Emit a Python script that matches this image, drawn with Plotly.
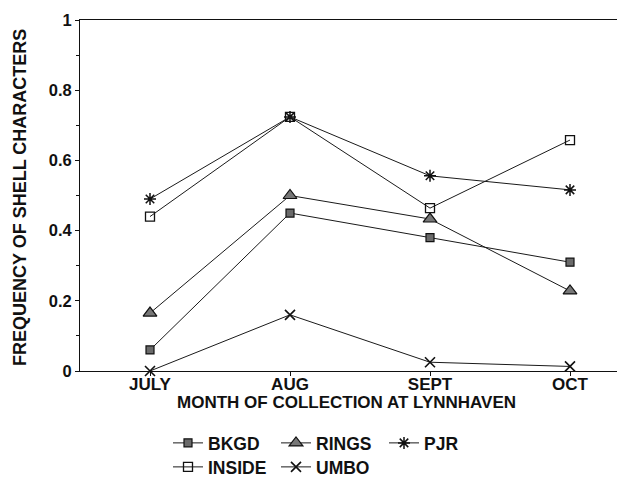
import plotly.graph_objects as go

months = ["JULY", "AUG", "SEPT", "OCT"]
bkgd = [0.06, 0.45, 0.38, 0.31]
rings = [0.165, 0.50, 0.433, 0.228]
pjr = [0.49, 0.724, 0.556, 0.516]
inside = [0.44, 0.724, 0.464, 0.658]
umbo = [0.0, 0.16, 0.025, 0.013]
y_ticks = [0, 0.2, 0.4, 0.6, 0.8, 1]
y_tick_labels = ["0", "0.2", "0.4", "0.6", "0.8", "1"]

FONT = "Liberation Sans, Arial, sans-serif"
xs = list(range(len(months)))

PL, PT, PW, PH = 72, 12, 553, 351  # plot area in px

series = [
    ("BKGD", bkgd, dict(symbol="square", size=8, color="#6a6a6a", line=dict(color="#111", width=1.2)), "legend"),
    ("RINGS", rings, dict(symbol="triangle-up", size=12, color="#777777", line=dict(color="#111", width=1.2)), "legend"),
    ("PJR", pjr, dict(symbol="asterisk-open", size=10, color="#111", line=dict(color="#111", width=1.5)), "legend"),
    ("INSIDE", inside, dict(symbol="square-open", size=9, color="#111", line=dict(color="#111", width=1.3)), "legend2"),
    ("UMBO", umbo, dict(symbol="x-thin-open", size=10, color="#111", line=dict(color="#111", width=1.6)), "legend2"),
]

fig = go.Figure()
for name, vals, marker, leg in series:
    fig.add_trace(go.Scatter(
        x=xs, y=vals, name=name, mode="lines+markers",
        line=dict(color="#1a1a1a", width=1),
        marker=marker, cliponaxis=False, legend=leg,
    ))

legend_font = dict(size=17.5, weight="bold", color="#111")
fig.update_layout(
    width=625, height=484,
    margin=dict(l=PL, r=0, t=PT, b=484 - PT - PH),
    paper_bgcolor="white", plot_bgcolor="white",
    font=dict(family=FONT, size=15, color="#111"),
    showlegend=True,
    legend=dict(orientation="h", xref="container", yref="container",
                x=160/625, y=1-417/484, xanchor="left", yanchor="top",
                entrywidth=63, font=legend_font, bgcolor="rgba(0,0,0,0)"),
    legend2=dict(orientation="h", xref="container", yref="container",
                 x=160/625, y=1-441/484, xanchor="left", yanchor="top",
                 entrywidth=63, font=legend_font, bgcolor="rgba(0,0,0,0)"),
    xaxis=dict(
        range=[-0.5, 3.45], tickmode="array", tickvals=xs, ticktext=months,
        showgrid=False, zeroline=False, showline=True, linecolor="#111", linewidth=1,
        mirror=True, ticks="outside", ticklen=4, tickcolor="#111",
        tickfont=dict(size=17, weight="bold"), ticklabelstandoff=-6,
    ),
    yaxis=dict(
        range=[0, 1], tickmode="array", tickvals=y_ticks, ticktext=y_tick_labels,
        showgrid=False, zeroline=False, showline=True, linecolor="#111", linewidth=1,
        ticks="outside", ticklen=4, tickcolor="#111", tickfont=dict(size=16.5, weight="bold"),
        minor=dict(dtick=0.1, ticks="outside", ticklen=3, tickcolor="#111"),
    ),
    annotations=[
        dict(text="MONTH OF COLLECTION AT LYNNHAVEN", xref="paper", yref="paper",
             x=(338-PL)/PW, y=(PT+PH-394)/PH, showarrow=False,
             font=dict(size=17, weight="bold"), xanchor="center", yanchor="middle"),
        dict(text="FREQUENCY OF SHELL CHARACTERS", xref="paper", yref="paper",
             x=(12-PL)/PW, y=(PT+PH-190)/PH, showarrow=False, textangle=-90,
             font=dict(size=18, weight="bold"), xanchor="center", yanchor="middle"),
    ],
)

fig.write_html("out.html")
